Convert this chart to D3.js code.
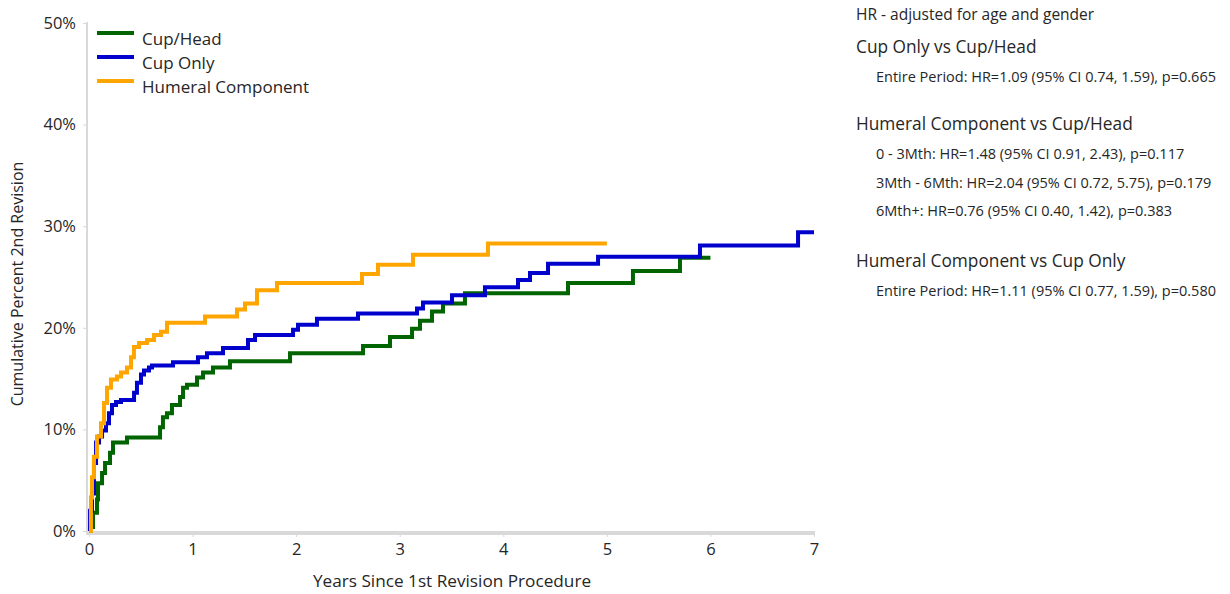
<!DOCTYPE html>
<html>
<head>
<meta charset="utf-8">
<script src="https://cdn.jsdelivr.net/npm/d3@7"></script>
<style>
  body { margin: 0; background: #fff; }
  text { font-family: "Open Sans", sans-serif; fill: #262626; }
</style>
</head>
<body>
<svg id="chart"></svg>
<script>
// step points: year at which the cumulative percent changes, and the new percent
const cupHeadYears = [0, 0.01, 0.039, 0.077, 0.087, 0.126, 0.155, 0.203, 0.232, 0.367, 0.686, 0.714, 0.753, 0.801, 0.879, 0.908, 0.946, 1.043, 1.101, 1.197, 1.361, 1.941, 2.646, 2.906, 3.119, 3.196, 3.312, 3.418, 3.63, 4.625, 5.252, 5.706, 6.0];
const cupHeadPct = [0, 0.4, 1.8, 3.1, 4.7, 5.7, 6.7, 7.7, 8.7, 9.2, 10.2, 11.2, 11.6, 12.4, 13.2, 14.1, 14.4, 15.1, 15.6, 16.1, 16.7, 17.5, 18.2, 19.1, 19.9, 20.7, 21.6, 22.4, 23.4, 24.4, 25.6, 26.9, 26.9];

const cupOnlyYears = [0, 0.01, 0.029, 0.048, 0.068, 0.097, 0.126, 0.164, 0.193, 0.222, 0.261, 0.309, 0.435, 0.463, 0.502, 0.531, 0.579, 0.608, 0.811, 1.052, 1.139, 1.294, 1.535, 1.603, 1.97, 2.018, 2.201, 2.597, 3.167, 3.225, 3.505, 3.823, 4.142, 4.258, 4.432, 4.915, 5.899, 6.846, 7.0];
const cupOnlyPct = [0, 2.0, 3.7, 6.7, 8.7, 9.3, 9.9, 10.6, 11.6, 12.4, 12.7, 12.9, 13.6, 14.6, 15.4, 15.8, 16.1, 16.3, 16.6, 17.1, 17.5, 18.0, 18.8, 19.3, 19.8, 20.3, 20.9, 21.4, 21.9, 22.5, 23.2, 24.0, 24.7, 25.4, 26.3, 27.0, 28.1, 29.4, 29.4];

const humeralYears = [0, 0.019, 0.029, 0.048, 0.077, 0.116, 0.145, 0.174, 0.212, 0.27, 0.309, 0.367, 0.406, 0.434, 0.483, 0.56, 0.628, 0.695, 0.753, 1.12, 1.429, 1.506, 1.622, 1.815, 2.636, 2.79, 3.128, 3.852, 5.0];
const humeralPct = [0, 3.3, 5.3, 7.3, 9.3, 10.6, 12.6, 14.1, 14.9, 15.2, 15.6, 16.1, 17.1, 18.1, 18.5, 18.8, 19.3, 19.6, 20.5, 21.1, 21.8, 22.4, 23.7, 24.4, 25.3, 26.2, 27.2, 28.3, 28.3];

const seriesNames = ["Cup/Head", "Cup Only", "Humeral Component"];
const seriesColors = ["#006400", "#0000cd", "#ffa500"];
const xTicks = [0, 1, 2, 3, 4, 5, 6, 7];
const yTicks = [0, 10, 20, 30, 40, 50];

const hrNote = "HR - adjusted for age and gender";
const hrBlocks = [
  { title: "Cup Only vs Cup/Head", lines: ["Entire Period: HR=1.09 (95% CI 0.74, 1.59), p=0.665"] },
  { title: "Humeral Component vs Cup/Head", lines: [
    "0 - 3Mth: HR=1.48 (95% CI 0.91, 2.43), p=0.117",
    "3Mth - 6Mth: HR=2.04 (95% CI 0.72, 5.75), p=0.179",
    "6Mth+: HR=0.76 (95% CI 0.40, 1.42), p=0.383"] },
  { title: "Humeral Component vs Cup Only", lines: ["Entire Period: HR=1.11 (95% CI 0.77, 1.59), p=0.580"] }
];

const svg = d3.select("#chart").attr("width", 1230).attr("height", 594);

const x = d3.scaleLinear().domain([0, 7]).range([89, 814]);
const y = d3.scaleLinear().domain([0, 50]).range([531, 23]);

// axes
const yAxis = svg.append("g")
  .attr("transform", "translate(87,0)")
  .call(d3.axisLeft(y).tickValues(yTicks).tickSize(4).tickFormat(d => d + "%"));
yAxis.select(".domain").remove();
yAxis.selectAll("line").attr("stroke", "#d9d9d9");
yAxis.selectAll("text").attr("font-size", 16.5).attr("x", -11).style("font-family", "'Open Sans', sans-serif").attr("fill", "#262626");

const xAxis = svg.append("g")
  .attr("transform", "translate(0,534)")
  .call(d3.axisBottom(x).tickValues(xTicks).tickSize(3).tickFormat(d3.format("d")));
xAxis.select(".domain").remove();
xAxis.selectAll("line").attr("stroke", "#d9d9d9");
xAxis.selectAll("text").attr("font-size", 16.5).attr("y", 9).style("font-family", "'Open Sans', sans-serif").attr("fill", "#262626");

svg.append("line")
  .attr("x1", 87).attr("x2", 87).attr("y1", 22).attr("y2", 534)
  .attr("stroke", "#d9d9d9").attr("stroke-width", 2);
svg.append("line")
  .attr("x1", 86).attr("x2", 815).attr("y1", 533).attr("y2", 533)
  .attr("stroke", "#d9d9d9").attr("stroke-width", 4);

svg.append("text")
  .attr("x", 452).attr("y", 587)
  .attr("text-anchor", "middle").attr("font-size", 17.2)
  .text("Years Since 1st Revision Procedure");

svg.append("text")
  .attr("transform", "translate(23,284) rotate(-90)")
  .attr("text-anchor", "middle").attr("font-size", 16)
  .text("Cumulative Percent 2nd Revision");

// curves
const line = d3.line()
  .x(d => x(d[0]))
  .y(d => y(d[1]))
  .curve(d3.curveStepAfter);

const seriesData = [
  d3.zip(cupHeadYears, cupHeadPct),
  d3.zip(cupOnlyYears, cupOnlyPct),
  d3.zip(humeralYears, humeralPct)
];

seriesData.forEach((data, i) => {
  svg.append("path")
    .attr("d", line(data))
    .attr("fill", "none")
    .attr("stroke", seriesColors[i])
    .attr("stroke-width", 4);
});

// legend
seriesNames.forEach((name, i) => {
  const ly = 33 + i * 24;
  svg.append("line")
    .attr("x1", 97).attr("x2", 134).attr("y1", ly).attr("y2", ly)
    .attr("stroke", seriesColors[i]).attr("stroke-width", 4);
  svg.append("text")
    .attr("x", 142).attr("y", ly + 12)
    .attr("font-size", 17)
    .text(name);
});

// hazard ratio notes
svg.append("text").attr("x", 856).attr("y", 20).attr("font-size", 15.5).text(hrNote);
const blockTops = [53, 130, 267];
hrBlocks.forEach((b, bi) => {
  const top = blockTops[bi];
  svg.append("text").attr("x", 856).attr("y", top).attr("font-size", 17.3).text(b.title);
  b.lines.forEach((l, li) => {
    svg.append("text").attr("x", 876).attr("y", top + 29 + li * 28.5).attr("font-size", 14.5).text(l);
  });
});
</script>
</body>
</html>
